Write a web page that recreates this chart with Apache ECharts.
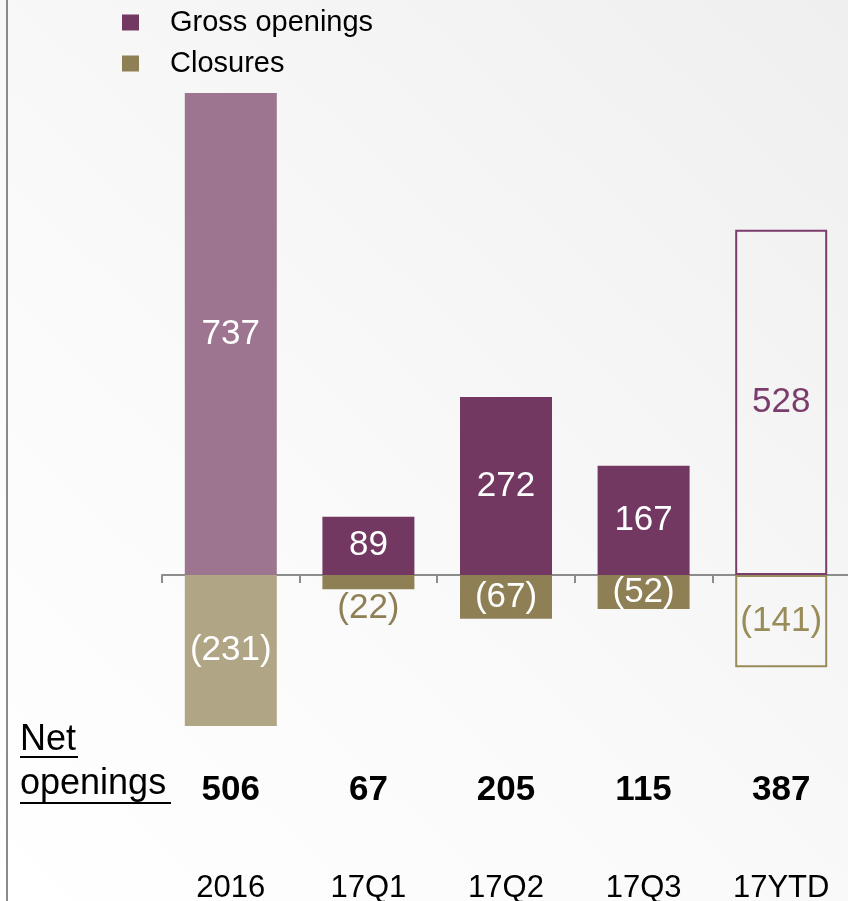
<!DOCTYPE html>
<html>
<head>
<meta charset="utf-8">
<script src="https://cdn.jsdelivr.net/npm/echarts@6/dist/echarts.min.js"></script>
<style>
  html, body { margin: 0; padding: 0; background: #fff; }
  #chart { width: 848px; height: 901px; }
</style>
</head>
<body>
<div id="chart"></div>
<script>
// Store openings per period
const categories = ['2016', '17Q1', '17Q2', '17Q3', '17YTD'];
const grossOpenings = [737, 89, 272, 167, 528];
const closures = [231, 22, 67, 52, 141];
const netOpenings = [506, 67, 205, 115, 387];

const FONT = '"Liberation Sans", Arial, Helvetica, sans-serif';
const C = {
  purple: '#733862',
  olive: '#8F7F55',
  fadedPurple: '#9E7590',
  fadedOlive: '#B0A585',
  ytdPurple: '#7B3B6B',
  ytdOlive: '#988C58',
  axis: '#8C8C8C'
};

// First period drawn in faded tones, last (year to date) as outlined boxes
function styledItem(value, i, base, faded, outline, smallOutside) {
  const item = { value: value };
  if (i === 0) {
    item.itemStyle = { color: faded };
  } else if (i === categories.length - 1) {
    item.itemStyle = { color: 'rgba(0,0,0,0)', borderColor: outline, borderWidth: 2 };
    item.label = { color: outline };
  }
  if (smallOutside) {
    item.label = Object.assign({}, item.label || {}, { position: 'bottom', distance: 2, color: base });
  }
  return item;
}

const grossData = grossOpenings.map((v, i) =>
  styledItem(v, i, C.purple, C.fadedPurple, C.ytdPurple, false));
const closureData = closures.map((v, i) =>
  styledItem(-v, i, C.olive, C.fadedOlive, C.ytdOlive, v < 30));

const chart = echarts.init(document.getElementById('chart'), null, { renderer: 'canvas' });

// Bottom row axes share the category slots with the bars
const rowAxis = (labels, margin, extra) => ({
  type: 'category',
  data: labels,
  position: 'bottom',
  axisLine: { show: false, onZero: false },
  axisTick: { show: false },
  splitLine: { show: false },
  axisLabel: Object.assign({
    margin: margin, verticalAlign: 'middle', color: '#000', fontFamily: FONT
  }, extra)
});

chart.setOption({
  animation: false,
  backgroundColor: {
    type: 'linear', x: 0, y: 1, x2: 1, y2: 0,
    colorStops: [
      { offset: 0, color: '#ffffff' },
      { offset: 0.4, color: '#fafafa' },
      { offset: 1, color: '#efefef' }
    ]
  },
  textStyle: { fontFamily: FONT },
  legend: {
    orient: 'vertical',
    left: 122,
    top: 8,
    padding: 0,
    itemWidth: 17,
    itemHeight: 16,
    itemGap: 12,
    icon: 'rect',
    data: ['Gross openings', 'Closures'],
    textStyle: { fontSize: 29, lineHeight: 29, color: '#000', fontFamily: FONT, padding: [0, 0, 0, 26] }
  },
  grid: {
    left: 162, right: -2, top: 93, bottom: 175,
    containLabel: false,
    outerBoundsMode: 'none'
  },
  xAxis: [
    {
      type: 'category',
      data: categories,
      position: 'bottom',
      axisLine: { onZero: true, lineStyle: { color: C.axis, width: 2 } },
      axisTick: { show: true, length: 8, lineStyle: { color: C.axis, width: 2 } },
      axisLabel: { show: false },
      splitLine: { show: false }
    },
    rowAxis(netOpenings.map(String), 64, { fontSize: 35, fontWeight: 'bold' }),
    rowAxis(categories, 162, { fontSize: 31 })
  ],
  yAxis: {
    type: 'value',
    min: -231,
    max: 737,
    show: false,
    splitLine: { show: false }
  },
  series: [
    {
      name: 'Gross openings',
      type: 'bar',
      stack: 'openings',
      barWidth: 92,
      itemStyle: { color: C.purple },
      label: {
        show: true, position: 'inside',
        fontSize: 35, color: '#fff', fontFamily: FONT
      },
      data: grossData
    },
    {
      name: 'Closures',
      type: 'bar',
      stack: 'openings',
      barWidth: 92,
      itemStyle: { color: C.olive },
      label: {
        show: true, position: 'inside',
        fontSize: 35, color: '#fff', fontFamily: FONT,
        formatter: p => '(' + Math.abs(p.value) + ')'
      },
      data: closureData
    }
  ],
  graphic: [
    {
      type: 'line',
      shape: { x1: 7, y1: 0, x2: 7, y2: 901 },
      style: { stroke: '#8A8A8A', lineWidth: 2 },
      silent: true
    },
    {
      type: 'text',
      style: { text: 'Net', x: 20, y: 740, font: '36px ' + FONT, fill: '#000', verticalAlign: 'middle' }
    },
    {
      type: 'line',
      shape: { x1: 20, y1: 757, x2: 78, y2: 757 },
      style: { stroke: '#000', lineWidth: 2 }
    },
    {
      type: 'text',
      style: { text: 'openings', x: 20, y: 784, font: '36px ' + FONT, fill: '#000', verticalAlign: 'middle' }
    },
    {
      type: 'line',
      shape: { x1: 20, y1: 803, x2: 171, y2: 803 },
      style: { stroke: '#000', lineWidth: 2 }
    }
  ]
});
</script>
</body>
</html>
